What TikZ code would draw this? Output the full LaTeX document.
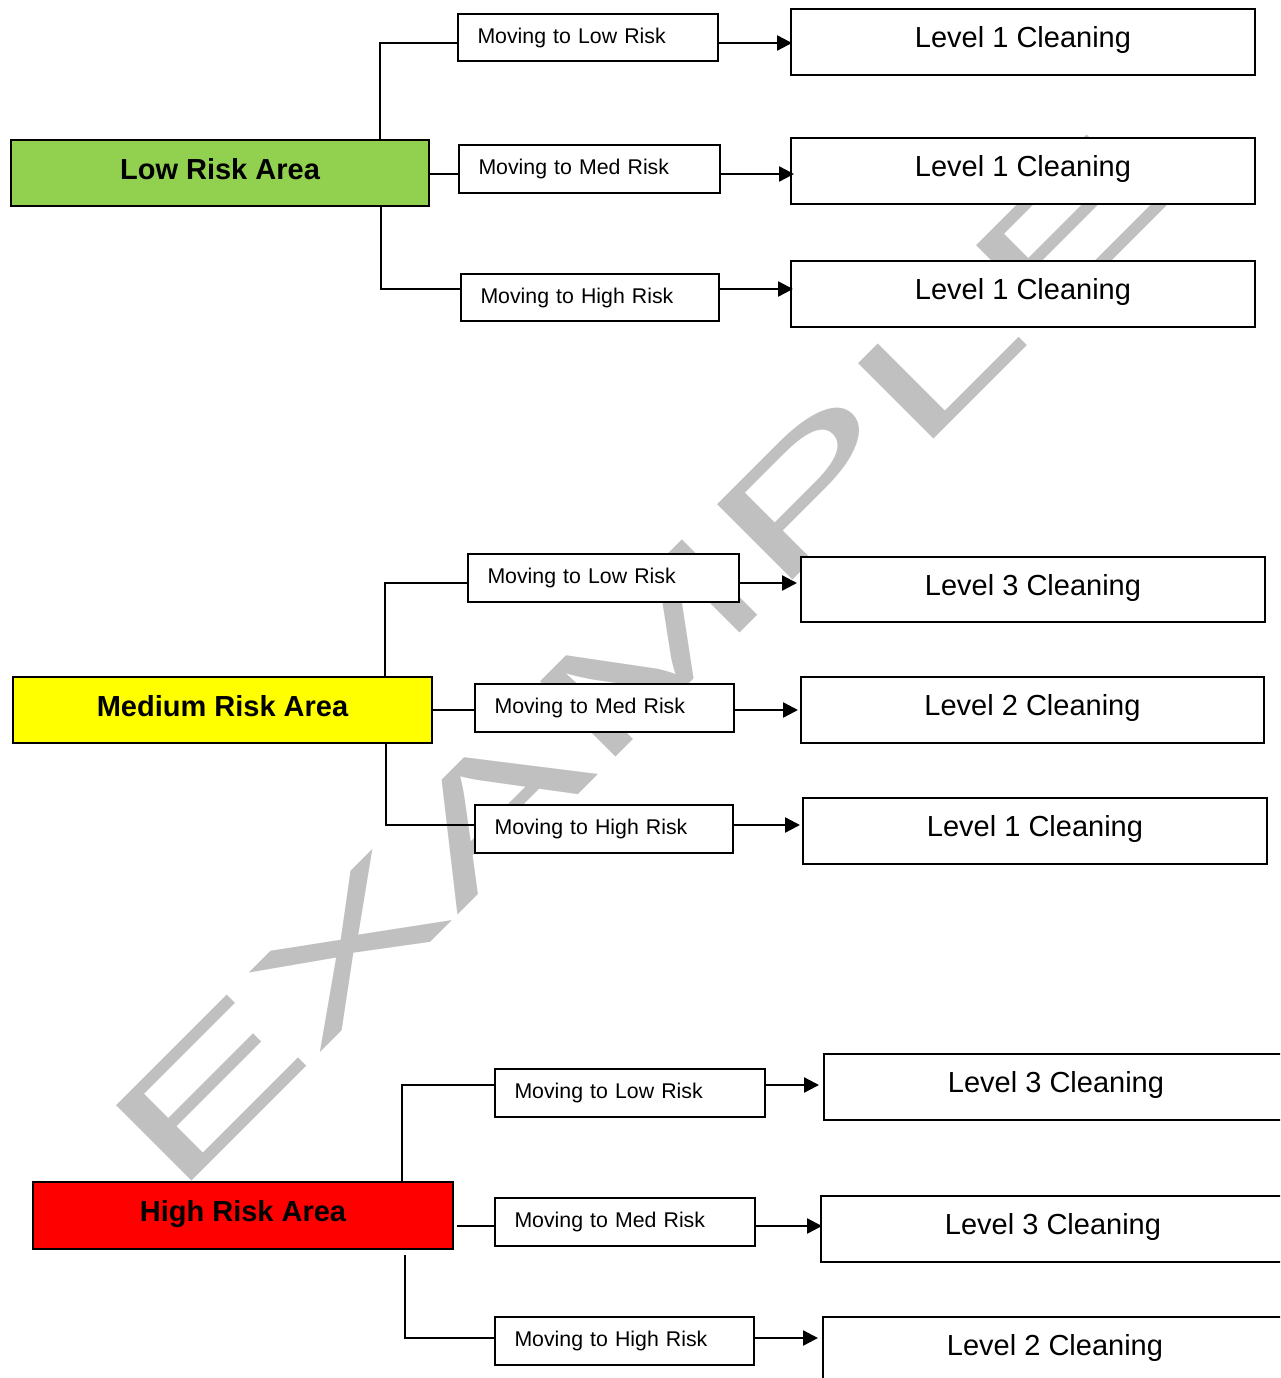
\documentclass[tikz,border=0pt]{standalone}
\usepackage{fontspec}
\usepackage{graphicx}
\setmainfont{Liberation Sans}
\usetikzlibrary{arrows.meta}
\definecolor{lowgreen}{HTML}{92D050}
\definecolor{medyellow}{HTML}{FFFF00}
\definecolor{highred}{HTML}{FF0000}
\definecolor{wmgray}{HTML}{C0C0C0}
\begin{document}
\begin{tikzpicture}[x=1pt,y=-1pt,
  area/.style={draw, line width=2pt, inner sep=0pt, text height=21pt, text depth=8.5pt, font=\fontsize{29}{30}\selectfont\bfseries},
  mov/.style={draw, fill=white, line width=2pt, inner xsep=19.5pt, inner ysep=0pt, align=left, font=\fontsize{21.3}{22}\selectfont},
  lvl/.style={draw, fill=white, line width=2pt, inner sep=0pt, text height=21pt, text depth=10pt, minimum width=464pt, minimum height=66pt, font=\fontsize{29}{30}\selectfont},
  conn/.style={line width=2.4pt},
  arr/.style={line width=2.4pt, -{Triangle[length=15pt,width=15pt]}}]
\useasboundingbox (0,0) rectangle (1280,1378);
\clip (0,0) rectangle (1280,1378);
\fill[white] (0,0) rectangle (1280,1378);

% watermark
\node[rotate=45, anchor=base west, inner sep=0pt, text=wmgray, font=\fontsize{155}{155}\selectfont] (wm) at (174,1199) {\scalebox{1.935}[1]{EXAMPLE}};

% ---------- Low risk ----------
\node[area, fill=lowgreen, minimum width=418pt, minimum height=66pt] (LA) at (220,173) {Low Risk Area};
\node[mov, minimum width=260pt, text width=221pt, minimum height=47pt] (M1) at (588,37.5) {Moving to Low Risk};
\node[mov, minimum width=261pt, text width=222pt, minimum height=48pt] (M2) at (589.5,169) {Moving to Med Risk};
\node[mov, minimum width=258pt, text width=219pt, minimum height=47pt] (M3) at (590,297.5) {Moving to High Risk};
\node[lvl] (L1) at (1023,42) {Level 1 Cleaning};
\node[lvl] (L2) at (1023,171) {Level 1 Cleaning};
\node[lvl] (L3) at (1023,294) {Level 1 Cleaning};
\coordinate (b1) at (380,43);
\coordinate (bm) at (430,174);
\coordinate (b3) at (381,289);
\draw[conn] (LA.north -| b1) |- (M1.west |- b1);
\draw[conn] (LA.east |- bm) -- (M2.west |- bm);
\draw[conn] (LA.south -| b3) |- (M3.west |- b3);
\draw[arr] (M1.east |- b1) -- ([xshift=2pt]L1.west |- b1);
\draw[arr] (M2.east |- bm) -- ([xshift=4pt]L2.west |- bm);
\draw[arr] (M3.east |- b3) -- ([xshift=3pt]L3.west |- b3);

% ---------- Medium risk ----------
\node[area, fill=medyellow, minimum width=419pt, minimum height=66pt] (MA) at (222.5,710) {Medium Risk Area};
\node[mov, minimum width=271pt, text width=232pt, minimum height=48pt] (N1) at (603.5,578) {Moving to Low Risk};
\node[mov, minimum width=259pt, text width=220pt, minimum height=48pt] (N2) at (604.5,708) {Moving to Med Risk};
\node[mov, minimum width=258pt, text width=219pt, minimum height=48pt] (N3) at (604,829) {Moving to High Risk};
\node[lvl, minimum height=65pt] (P1) at (1033,589.5) {Level 3 Cleaning};
\node[lvl, minimum width=463pt] (P2) at (1032.5,710) {Level 2 Cleaning};
\node[lvl] (P3) at (1035,831) {Level 1 Cleaning};
\coordinate (c1) at (385,583);
\coordinate (cm) at (433,710);
\coordinate (c3) at (386,825);
\draw[conn] (MA.north -| c1) |- (N1.west |- c1);
\draw[conn] (MA.east |- cm) -- (N2.west |- cm);
\draw[conn] (MA.south -| c3) |- (N3.west |- c3);
\draw[arr] (N1.east |- c1) -- ([xshift=-3pt]P1.west |- c1);
\draw[arr] (N2.east |- cm) -- ([xshift=-2pt]P2.west |- cm);
\draw[arr] (N3.east |- c3) -- ([xshift=-2pt]P3.west |- c3);

% ---------- High risk ----------
\node[area, fill=highred, minimum width=420pt, minimum height=67pt] (HA) at (243,1215.5) {High Risk Area};
\node[mov, minimum width=270pt, text width=231pt, minimum height=48pt] (H1) at (630,1093) {Moving to Low Risk};
\node[mov, minimum width=260pt, text width=221pt, minimum height=48pt] (H2) at (625,1222) {Moving to Med Risk};
\node[mov, minimum width=259pt, text width=220pt, minimum height=48pt] (H3) at (624.5,1341) {Moving to High Risk};
\node[lvl] (Q1) at (1056,1087) {Level 3 Cleaning};
\node[lvl] (Q2) at (1053,1229) {Level 3 Cleaning};
\node[lvl] (Q3) at (1055,1350) {Level 2 Cleaning};
\coordinate (d1) at (402,1085);
\coordinate (dm) at (457,1226);
\coordinate (d3) at (405,1338);
\draw[conn] (HA.north -| d1) |- (H1.west |- d1);
\draw[conn] (dm) -- (H2.west |- dm);
\draw[conn] ([yshift=-5pt]HA.south -| d3) |- (H3.west |- d3);
\draw[arr] (H1.east |- d1) -- ([xshift=-4pt]Q1.west |- d1);
\draw[arr] (H2.east |- dm) -- ([xshift=2pt]Q2.west |- dm);
\draw[arr] (H3.east |- d3) -- ([xshift=-4pt]Q3.west |- d3);
\end{tikzpicture}
\end{document}
